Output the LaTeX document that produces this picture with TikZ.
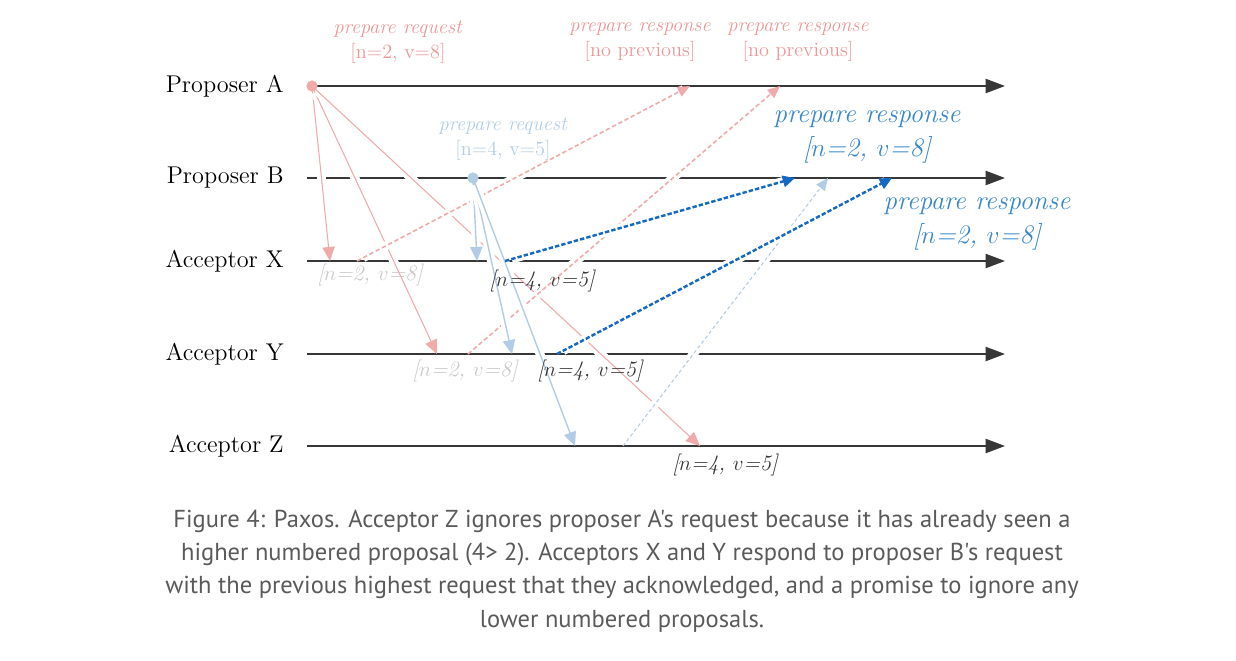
\documentclass[tikz,border=0pt]{standalone}
\usepackage{fontspec}
\newfontfamily\capfont{PT Sans}
\usepackage{tikz}
\usetikzlibrary{arrows.meta}
\definecolor{pinkmsg}{RGB}{240,170,170}
\definecolor{pinktxt}{RGB}{236,150,150}
\definecolor{bluemsg}{RGB}{178,204,230}
\definecolor{bluersp}{RGB}{22,105,195}
\definecolor{bluetxt}{RGB}{55,135,205}
\definecolor{axisgray}{RGB}{55,55,55}
\definecolor{ghost}{RGB}{200,200,200}
\definecolor{capgray}{RGB}{90,90,90}

\begin{document}
\begin{tikzpicture}[x=0.02cm,y=-0.02cm,
	axis/.style={draw=axisgray,line width=1.1pt,-{Triangle[length=11pt,width=8pt]}},
	halo/.style={preaction={draw=white,solid,line width=5pt,arrows=-,shorten <=4pt,shorten >=4pt}},
	preq/.style={halo,draw=pinkmsg,line width=0.6pt,-{Triangle[length=8pt,width=7pt]}},
	breq/.style={halo,draw=bluemsg,line width=0.8pt,-{Triangle[length=8pt,width=7pt]}},
	presp/.style={halo,draw=pinkmsg,line width=0.9pt,dash pattern=on 2.5pt off 1.5pt,-{Triangle[length=7pt,width=6pt]}},
	bresp/.style={halo,draw=bluersp,line width=1.4pt,dash pattern=on 2.5pt off 1.2pt,-{Triangle[length=7pt,width=6.5pt]}},
	zresp/.style={halo,draw=bluemsg,line width=0.6pt,dash pattern=on 2pt off 1.5pt,-{Triangle[length=7pt,width=6pt]}},
	axislabel/.style={anchor=east,inner sep=0pt,font=\fontsize{13.8}{16}\selectfont},
	small/.style={inner sep=0pt,align=center,font=\fontsize{11.5}{14.5}\selectfont},
	big/.style={inner sep=0pt,align=center,text=bluetxt,font=\fontsize{15.2}{19}\selectfont\itshape},
	val/.style={inner sep=0pt,font=\fontsize{12.5}{15}\selectfont\itshape}]
	\useasboundingbox (0,0) rectangle (1236,660);
	% Axes
	\coordinate (Astart) at (307,86);  \coordinate (Aend) at (1005,86);
	\coordinate (Bstart) at (307,178); \coordinate (Bend) at (1005,178);
	\coordinate (Xstart) at (307,261); \coordinate (Xend) at (1005,261);
	\coordinate (Ystart) at (307,354); \coordinate (Yend) at (1005,354);
	\coordinate (Zstart) at (307,446); \coordinate (Zend) at (1005,446);
	\draw[axis] (Astart) -- (Aend);
	\draw[axis] (Bstart) -- (Bend);
	\draw[axis] (Xstart) -- (Xend);
	\draw[axis] (Ystart) -- (Yend);
	\draw[axis] (Zstart) -- (Zend);
	\node[axislabel] (propA) at (284,86) {Proposer A};
	\node[axislabel] (propB) at (284,178) {Proposer B};
	\node[axislabel] (accX) at (284,261) {Acceptor X};
	\node[axislabel] (accY) at (284,354) {Acceptor Y};
	\node[axislabel] (accZ) at (284,446) {Acceptor Z};
	% Prepare request of proposer A
	\coordinate (reqA) at (312,86);
	\coordinate (reqAX) at (330,261);
	\coordinate (reqAY) at (437,354);
	\coordinate (reqAZ) at (700,446);
	\draw[preq] (reqA) -- (reqAX);
	\draw[preq] (reqA) -- (reqAY);
	\draw[preq] (reqA) -- (reqAZ);
	% Responses of X and Y to A
	\coordinate (rspXA) at (357,261); \coordinate (rspXAend) at (690,86);
	\coordinate (rspYA) at (468,354); \coordinate (rspYAend) at (780,86);
	\draw[presp] (rspXA) -- (rspXAend);
	\draw[presp] (rspYA) -- (rspYAend);
	% Prepare request of proposer B
	\coordinate (reqB) at (473,178);
	\coordinate (reqBX) at (477,261);
	\coordinate (reqBY) at (512,354);
	\coordinate (reqBZ) at (575,446);
	\draw[breq] (reqB) -- (reqBX);
	\draw[breq] (reqB) -- (reqBY);
	\draw[breq] (reqB) -- (reqBZ);
	% Responses of X, Y and Z to B
	\coordinate (rspXB) at (505,261); \coordinate (rspXBend) at (795,178);
	\coordinate (rspYB) at (557,354); \coordinate (rspYBend) at (892,178);
	\coordinate (rspZB) at (623,446); \coordinate (rspZBend) at (828,178);
	\draw[zresp] (rspZB) -- (rspZBend);
	\draw[bresp] (rspXB) -- (rspXBend);
	\draw[bresp] (rspYB) -- (rspYBend);
	\fill[pinkmsg] (reqA) circle (3.2pt);
	\fill[bluemsg] (reqB) circle (3.2pt);
	% Labels
	\node[small,text=pinktxt] (lreqA) at (398,42) {\textit{prepare request}\\{}[n=2, v=8]};
	\node[small,text=pinktxt] (lrspX) at (640,42) {\itshape prepare response\\{}[no previous]};
	\node[small,text=pinktxt] (lrspY) at (798,42) {\itshape prepare response\\{}[no previous]};
	\node[small,text=bluemsg] (lreqB) at (503,139) {\textit{prepare request}\\{}[n=4, v=5]};
	\node[big] (lrspXB) at (867,137) {prepare response\\{}[$n$=2, $v$=8]};
	\node[big] (lrspYB) at (977,224) {prepare response\\{}[$n$=2, $v$=8]};
	\node[val,text=ghost] (valX2) at (370,275) {[$n$=2, $v$=8]};
	\node[val,text=black!80] (valX4) at (542,281) {[$n$=4, $v$=5]};
	\node[val,text=ghost] (valY2) at (465,371) {[$n$=2, $v$=8]};
	\node[val,text=black!80] (valY4) at (590,371) {[$n$=4, $v$=5]};
	\node[val,text=black!80] (valZ4) at (725,465) {[$n$=4, $v$=5]};
	% Caption
	\node[inner sep=0pt,align=center,text=capgray,font=\capfont\fontsize{13.95}{18.9}\selectfont] (caption) at (622,571)
		{Figure 4: Paxos. Acceptor Z ignores proposer A's request because it has already seen a\\
		higher numbered proposal (4> 2). Acceptors X and Y respond to proposer B's request\\
		with the previous highest request that they acknowledged, and a promise to ignore any\\
		lower numbered proposals.};
\end{tikzpicture}
\end{document}
